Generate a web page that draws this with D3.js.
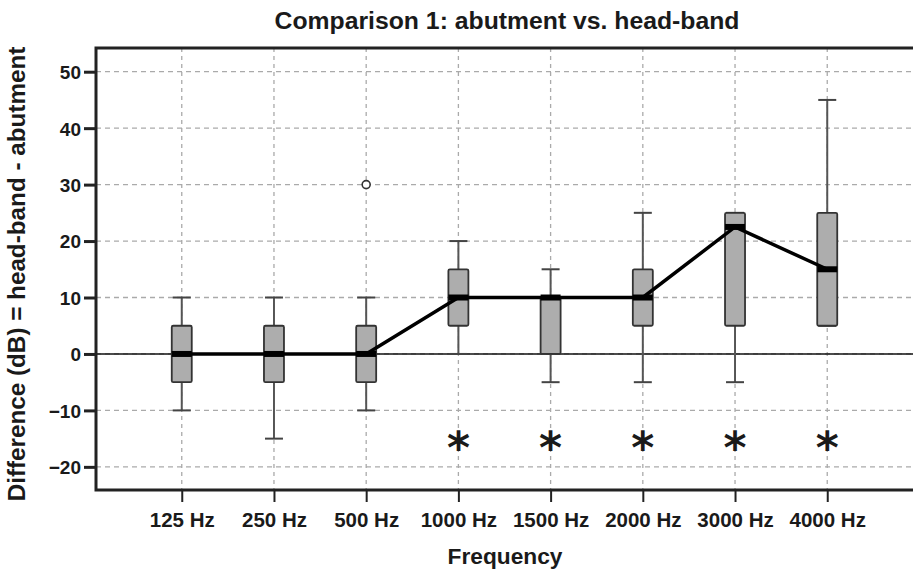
<!DOCTYPE html>
<html>
<head>
  <meta charset="utf-8">
  <script src="https://d3js.org/d3.v7.min.js"></script>
  <style>
    body { margin: 0; background: #fff; overflow: hidden; }
    text { font-family: "Liberation Sans", Arial, sans-serif; font-weight: bold; fill: #1a1a1a; }
  </style>
</head>
<body>
  <div id="my_dataviz"></div>
  <script>
    // data
    var categories = ["125 Hz", "250 Hz", "500 Hz", "1000 Hz", "1500 Hz", "2000 Hz", "3000 Hz", "4000 Hz"];
    var mins    = [-10, -15, -10,  0, -5, -5, -5,  5];
    var q1s     = [ -5,  -5,  -5,  5,  0,  5,  5,  5];
    var medians = [  0,   0,   0, 10, 10, 10, 22.5, 15];
    var q3s     = [  5,   5,   5, 15, 10, 15, 25, 25];
    var maxs    = [ 10,  10,  10, 20, 15, 25, 25, 45];
    var outliers = [{ cat: "500 Hz", value: 30 }];
    var starCats = ["1000 Hz", "1500 Hz", "2000 Hz", "3000 Hz", "4000 Hz"];
    var starValue = -15.5;
    var yTicks = [-20, -10, 0, 10, 20, 30, 40, 50];

    var W = 913, H = 574;
    var pLeft = 96, pRight = 913, pTop = 48, pBottom = 490;

    var svg = d3.select("#my_dataviz")
      .append("svg")
      .attr("width", W)
      .attr("height", H)
      .style("display", "block");

    // shrink/grow a text's font size until it spans the wanted width
    function fitWidth(sel, target) {
      var fs = parseFloat(sel.style("font-size"));
      var w = sel.node().getComputedTextLength();
      sel.style("font-size", (fs * target / w).toFixed(2) + "px");
    }

    var x = d3.scalePoint()
      .domain(categories)
      .range([pLeft, pRight])
      .padding(0.93);

    var y = d3.scaleLinear()
      .domain([-24.1, 54.2])
      .range([pBottom, pTop]);

    // Title
    var title = svg.append("text")
      .attr("x", 507)
      .attr("y", 29)
      .style("text-anchor", "middle")
      .style("font-size", "20px")
      .text("Comparison 1: abutment vs. head-band");
    fitWidth(title, 465);

    // grid
    svg.append("g").selectAll("line")
      .data(yTicks)
      .enter().append("line")
      .attr("x1", pLeft).attr("x2", pRight)
      .attr("y1", function(d) { return y(d); })
      .attr("y2", function(d) { return y(d); })
      .style("stroke", "#aaa")
      .style("stroke-dasharray", "5,4")
      .style("stroke-width", 1.3);

    svg.append("g").selectAll("line")
      .data(categories)
      .enter().append("line")
      .attr("y1", pTop).attr("y2", pBottom)
      .attr("x1", function(d) { return x(d); })
      .attr("x2", function(d) { return x(d); })
      .style("stroke", "#aaa")
      .style("stroke-dasharray", "4,4")
      .style("stroke-width", 1.3);

    // zero reference line
    svg.append("line")
      .attr("x1", pLeft).attr("x2", pRight)
      .attr("y1", y(0)).attr("y2", y(0))
      .style("stroke", "#111")
      .style("stroke-width", 1.5);

    // Y axis
    var yAxis = svg.append("g")
      .attr("transform", "translate(" + pLeft + ",0)")
      .call(d3.axisLeft(y).tickValues(yTicks).tickSize(12).tickPadding(3));
    yAxis.select(".domain").remove();
    yAxis.selectAll(".tick line").style("stroke", "#222").style("stroke-width", 3);
    yAxis.selectAll(".tick text").style("font-size", "19px").attr("dy", "0.36em");

    // X axis
    var xAxis = svg.append("g")
      .attr("transform", "translate(0," + pBottom + ")")
      .call(d3.axisBottom(x).tickSize(12).tickPadding(10));
    xAxis.select(".domain").remove();
    xAxis.selectAll(".tick line").style("stroke", "#222").style("stroke-width", 2);
    xAxis.selectAll(".tick text").style("font-size", "20.5px");

    // frame (right side runs off the picture)
    svg.append("path")
      .attr("d", "M" + (pRight + 10) + "," + pTop + "H" + pLeft + "V" + pBottom + "H" + (pRight + 10))
      .style("fill", "none")
      .style("stroke", "#222")
      .style("stroke-width", 3);

    // axis titles
    var xTitle = svg.append("text")
      .attr("x", 505)
      .attr("y", 564)
      .style("text-anchor", "middle")
      .style("font-size", "20px")
      .text("Frequency");
    fitWidth(xTitle, 115);

    var yTitle = svg.append("text")
      .attr("transform", "rotate(-90)")
      .attr("x", -274)
      .attr("y", 25)
      .style("text-anchor", "middle")
      .style("font-size", "19px")
      .text("Difference (dB) = head-band - abutment");
    fitWidth(yTitle, 455);

    // boxplots
    var bw = 20, cw = 9;
    var boxes = categories.map(function(c, i) {
      return { cat: c, min: mins[i], q1: q1s[i], med: medians[i], q3: q3s[i], max: maxs[i] };
    });

    var g = svg.append("g").selectAll("g")
      .data(boxes)
      .enter().append("g");

    // whiskers
    g.append("line")
      .attr("x1", function(d) { return x(d.cat); })
      .attr("x2", function(d) { return x(d.cat); })
      .attr("y1", function(d) { return y(d.min); })
      .attr("y2", function(d) { return y(d.max); })
      .style("stroke", "#555")
      .style("stroke-width", 2);
    g.selectAll("line.cap")
      .data(function(d) { return [{ cat: d.cat, v: d.min }, { cat: d.cat, v: d.max }]; })
      .enter().append("line")
      .attr("class", "cap")
      .attr("x1", function(d) { return x(d.cat) - cw; })
      .attr("x2", function(d) { return x(d.cat) + cw; })
      .attr("y1", function(d) { return y(d.v); })
      .attr("y2", function(d) { return y(d.v); })
      .style("stroke", "#444")
      .style("stroke-width", 2);

    g.append("rect")
      .attr("x", function(d) { return x(d.cat) - bw / 2; })
      .attr("width", bw)
      .attr("y", function(d) { return y(d.q3); })
      .attr("height", function(d) { return y(d.q1) - y(d.q3); })
      .attr("rx", 1.5)
      .style("fill", "#adadad")
      .style("stroke", "#333")
      .style("stroke-width", 1.8);

    g.append("line")
      .attr("x1", function(d) { return x(d.cat) - bw / 2; })
      .attr("x2", function(d) { return x(d.cat) + bw / 2; })
      .attr("y1", function(d) { return y(d.med); })
      .attr("y2", function(d) { return y(d.med); })
      .style("stroke", "#000")
      .style("stroke-width", 6);

    // outliers
    svg.append("g").selectAll("circle")
      .data(outliers)
      .enter().append("circle")
      .attr("cx", function(d) { return x(d.cat); })
      .attr("cy", function(d) { return y(d.value); })
      .attr("r", 4)
      .style("fill", "#fff")
      .style("stroke", "#333")
      .style("stroke-width", 1.6);

    // median line
    var line = d3.line()
      .x(function(d) { return x(d.cat); })
      .y(function(d) { return y(d.med); });
    svg.append("path")
      .datum(boxes)
      .attr("d", line)
      .style("fill", "none")
      .style("stroke", "#000")
      .style("stroke-width", 3.5);

    // significance stars
    svg.append("g").selectAll("text")
      .data(starCats)
      .enter().append("text")
      .attr("x", function(d) { return x(d); })
      .attr("y", y(starValue) + 22)
      .style("text-anchor", "middle")
      .style("font-family", "DejaVu Sans, sans-serif")
      .style("font-weight", "bold")
      .style("font-size", "44px")
      .text("*");
  </script>
</body>
</html>
